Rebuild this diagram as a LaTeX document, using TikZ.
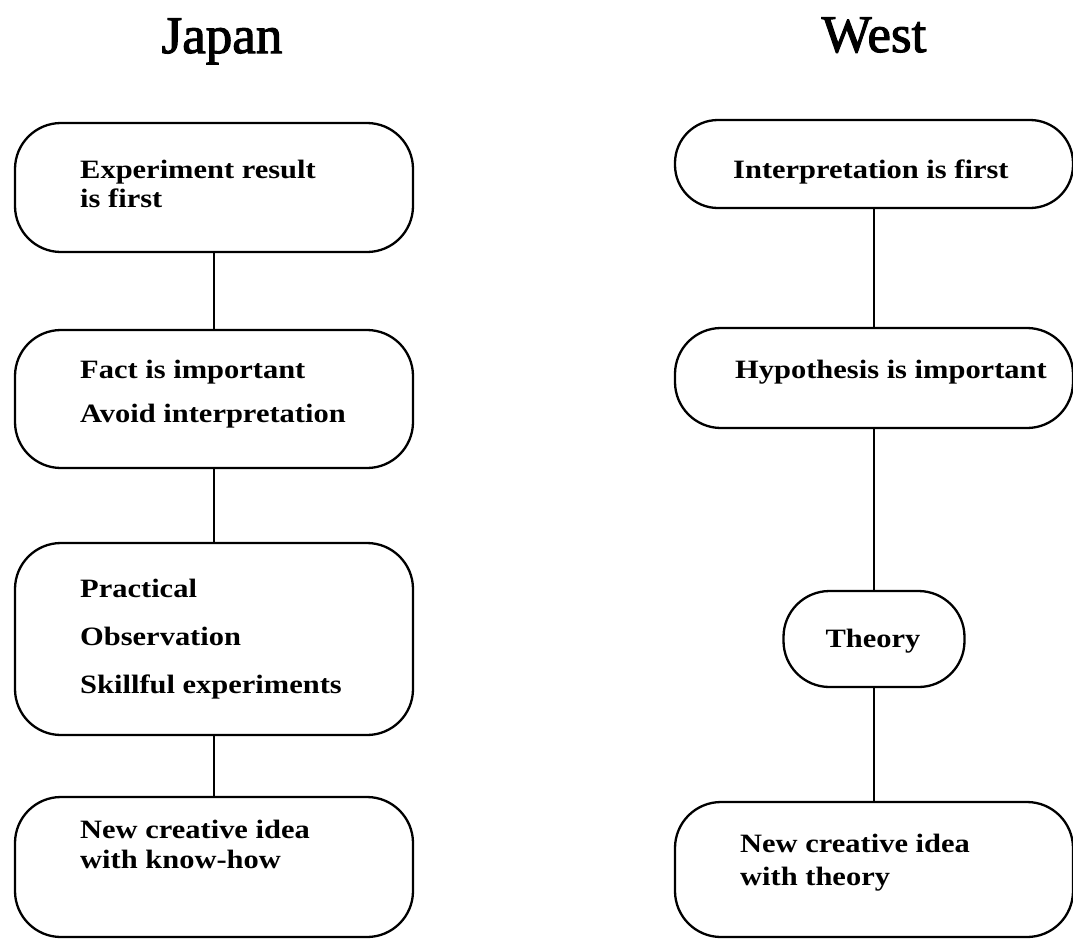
\documentclass[tikz,border=0pt]{standalone}
\usepackage{fontspec}
\setmainfont{Liberation Serif}
\newfontfamily\bodyfont[FakeStretch=1.15]{Liberation Serif Bold}
\newfontfamily\headfont[FakeBold=2]{Liberation Serif}

\begin{document}
\begin{tikzpicture}[x=1pt,y=-1pt,
  box/.style={draw, line width=2.3pt, rounded corners=46pt, inner sep=0pt,
              outer sep=0pt, minimum width=398pt},
  link/.style={line width=1.3pt},
  txt/.style={anchor=base west, inner sep=0pt,
              font=\bodyfont\fontsize{26.5}{30}\selectfont},
  ctxt/.style={anchor=base, inner sep=0pt,
              font=\bodyfont\fontsize{26.5}{30}\selectfont},
  heading/.style={anchor=base, inner sep=0pt,
              font=\headfont\fontsize{53}{60}\selectfont}]
\useasboundingbox (0,0) rectangle (1073,938);

% column headings
\node[heading] (hj) at (222,53) {Japan};
\node[heading] (hw) at (874,52) {West};

% Japan column
\node[box, minimum height=129pt] (j1) at (214,187.5) {};
\node[box, minimum height=138pt] (j2) at (214,399) {};
\node[box, minimum height=192pt] (j3) at (214,639) {};
\node[box, minimum height=140pt] (j4) at (214,867) {};

\node[txt] (j1a) at (80,178) {Experiment result};
\node[txt] (j1b) at (80,207) {is first};
\node[txt] (j2a) at (80,378) {Fact is important};
\node[txt] (j2b) at (80,422) {Avoid interpretation};
\node[txt] (j3a) at (80,597) {Practical};
\node[txt] (j3b) at (80,645) {Observation};
\node[txt] (j3c) at (80,693) {Skillful experiments};
\node[txt] (j4a) at (80,838) {New creative idea};
\node[txt] (j4b) at (80,868) {with know-how};

\draw[link] (j1.south) -- (j2.north);
\draw[link] (j2.south) -- (j3.north);
\draw[link] (j3.south) -- (j4.north);

% West column
\node[box, minimum height=88pt, rounded corners=43pt] (w1) at (874,164) {};
\node[box, minimum height=100pt] (w2) at (874,378) {};
\node[box, minimum width=181pt, minimum height=96pt] (w3) at (874,639) {};
\node[box, minimum height=135pt] (w4) at (874,869.5) {};

\node[txt]  (w1a) at (733,178) {Interpretation is first};
\node[txt]  (w2a) at (735,378) {Hypothesis is important};
\node[ctxt] (w3a) at (873,647) {Theory};
\node[txt]  (w4a) at (740,852) {New creative idea};
\node[txt]  (w4b) at (740,885) {with theory};

\draw[link] (w1.south) -- (w2.north);
\draw[link] (w2.south) -- (w3.north);
\draw[link] (w3.south) -- (w4.north);
\end{tikzpicture}
\end{document}
